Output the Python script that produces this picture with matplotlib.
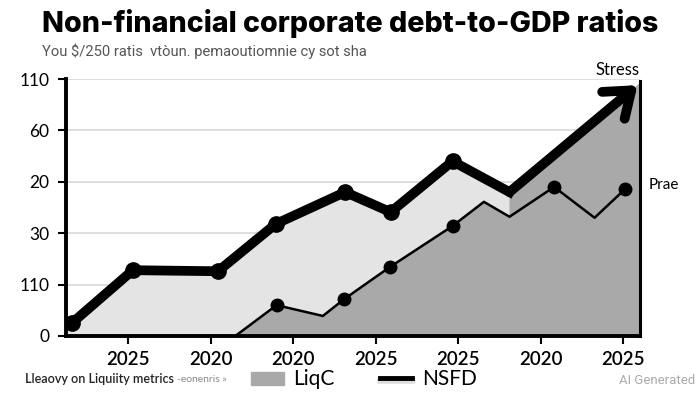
import matplotlib.pyplot as plt
from matplotlib.patches import Rectangle
from matplotlib.lines import Line2D

# tick labels as printed on the chart (positions are evenly spaced)
x_labels = ['2025', '2020', '2020', '2025', '2025', '2020', '2025']
y_labels = ['0', '110', '30', '20', '60', '110']

# NSFD (thick line), x in tick-index units, y in gridline units
nsfd_x = [-0.68, 0.06, 1.09, 1.79, 2.63, 3.18, 3.93, 4.62]
nsfd_y = [0.25, 1.28, 1.26, 2.18, 2.80, 2.41, 3.40, 2.80]
nsfd_marked = [True, True, True, True, True, True, True, False]
# "Stress" arrow end
stress_x = 6.17
stress_y = 4.88

# LiqC (thin line)
liqc_x = [1.30, 1.80, 2.36, 2.62, 3.17, 3.93, 4.31, 4.62, 5.16, 5.65, 6.02]
liqc_y = [0.0, 0.60, 0.39, 0.72, 1.34, 2.14, 2.61, 2.32, 2.90, 2.30, 2.86]
liqc_marked = [False, True, False, True, True, True, False, False, True, False, True]

W, H = 700, 393
fig = plt.figure(figsize=(7, 3.93), dpi=100)
ax = fig.add_axes([66 / W, 1 - 336 / H, (640 - 66) / W, (336 - 79) / H])

x_left, x_right = -0.75, 6.2
ax.set_xlim(x_left, x_right)
ax.set_ylim(0, 5)

# gridlines behind everything
for i in range(len(y_labels)):
    ax.axhline(i, color='#d8d8d8', lw=1.2, zorder=0)

# light fill under NSFD
ax.fill_between([x_left] + nsfd_x, [nsfd_y[0]] + nsfd_y, 0, color='#e4e4e4', lw=0, zorder=1)

# dark fill: under LiqC up to the split, then up to the stress trend
edge = x_right
top_at_edge = nsfd_y[-1] + (stress_y - nsfd_y[-1]) * (edge - nsfd_x[-1]) / (stress_x - nsfd_x[-1])
split = nsfd_x[-1]
px = [x for x in liqc_x if x <= split]
py = [y for x, y in zip(liqc_x, liqc_y) if x <= split]
poly_x = px + [split, edge, edge, liqc_x[0]]
poly_y = py + [nsfd_y[-1], top_at_edge, 0, 0]
ax.fill(poly_x, poly_y, color='#a9a9a9', lw=0, zorder=2)
ax.plot([edge, edge], [0, top_at_edge + 0.05], color='black', lw=2.2, zorder=5, clip_on=False)

# LiqC line
ax.plot(liqc_x, liqc_y, color='black', lw=1.8, zorder=4)
ax.plot([x for x, m in zip(liqc_x, liqc_marked) if m],
        [y for y, m in zip(liqc_y, liqc_marked) if m],
        'o', color='black', ms=9, zorder=4)

# NSFD line + arrow
ax.plot(nsfd_x, nsfd_y, color='black', lw=7, solid_joinstyle='miter', zorder=6)
ax.plot([x for x, m in zip(nsfd_x, nsfd_marked) if m],
        [y for y, m in zip(nsfd_y, nsfd_marked) if m],
        'o', color='black', ms=11, zorder=6)
ax.annotate('', xy=(stress_x, stress_y), xytext=(nsfd_x[-1], nsfd_y[-1]),
            arrowprops=dict(arrowstyle='->,head_length=0.6,head_width=0.45',
                            color='black', lw=7, mutation_scale=28,
                            shrinkA=0, shrinkB=0, capstyle='round'),
            zorder=7, annotation_clip=False)

ax.set_xticks(range(len(x_labels)))
ax.set_xticklabels(x_labels, fontsize=13.5, fontweight='semibold', family='Lato')
ax.set_yticks(range(len(y_labels)))
ax.set_yticklabels(y_labels, fontsize=12.5, family='Lato')
ax.tick_params(axis='both', length=6, width=1.5, color='black', pad=4)
ax.tick_params(axis='x', pad=5)
ax.tick_params(axis='y', pad=6)
for s in ['top', 'right']:
    ax.spines[s].set_visible(False)
for s in ['left', 'bottom']:
    ax.spines[s].set_linewidth(2.8)
ax.spines['left'].set_bounds(0, 5)

# titles
fig.text(42 / W, 1 - 24 / H, 'Non-financial corporate debt-to-GDP ratios',
         fontsize=20.6, fontweight='heavy', family='Inter', va='center', ha='left')
fig.text(42 / W, 1 - 51 / H, 'You $/250 ratis  vtòun. pemaoutiomnie cy sot sha',
         fontsize=10.6, color='#555555', family='Roboto', va='center', ha='left')

fig.text(618 / W, 1 - 70 / H, 'Stress', fontsize=12, family='Lato', ha='center', va='center')
fig.text(649 / W, 1 - 185 / H, 'Prae', fontsize=11, family='Lato', ha='left', va='center')

# legend row
fig.text(25 / W, 1 - 379 / H, 'Lleaovy on Liquiity metrics', fontsize=9, family='Lato',
         fontweight='semibold', color='#222222', ha='left', va='center')
fig.text(177 / W, 1 - 379 / H, '-eonenris »', fontsize=7.5, family='Lato',
         color='#888888', ha='left', va='center')
fig.patches.append(Rectangle((251 / W, 1 - 385 / H), 33 / W, 13 / H,
                             transform=fig.transFigure, color='#a9a9a9', figure=fig))
fig.text(293 / W, 1 - 379 / H, 'LiqC', fontsize=15, family='Lato', ha='left', va='center')
fig.lines.append(Line2D([380 / W, 412 / W], [1 - 381 / H, 1 - 381 / H], transform=fig.transFigure,
                        color='#dddddd', lw=4, figure=fig))
fig.lines.append(Line2D([380 / W, 412 / W], [1 - 378 / H, 1 - 378 / H], transform=fig.transFigure,
                        color='black', lw=3.5, figure=fig))
fig.text(422 / W, 1 - 379 / H, 'NSFD', fontsize=15, family='Lato', ha='left', va='center')
fig.text(695 / W, 1 - 381 / H, 'AI Generated', fontsize=9.5, family='Roboto',
         color='#aaaaaa', ha='right', va='center')

fig.savefig('out.png', dpi=100)
